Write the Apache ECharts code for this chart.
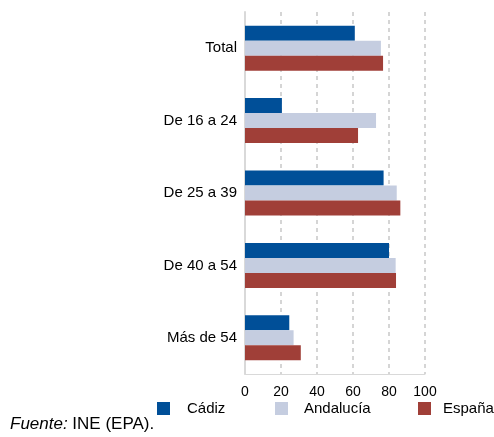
<!DOCTYPE html>
<html>
<head>
<meta charset="utf-8">
<script src="https://cdn.jsdelivr.net/npm/echarts@6/dist/echarts.min.js"></script>
<style>
  html, body { margin: 0; padding: 0; background: #fff; }
  #chart { width: 494px; height: 437px; }
</style>
</head>
<body>
<div id="chart"></div>
<script>
const categories = ["Total", "De 16 a 24", "De 25 a 39", "De 40 a 54", "Más de 54"];
const cadiz = [61, 20.5, 77, 80, 24.6];
const andalucia = [75.5, 72.8, 84.3, 83.7, 27];
const espana = [76.7, 62.8, 86.3, 83.9, 31];
const xTicks = [0, 20, 40, 60, 80, 100];

const font = "Liberation Sans, Arial, sans-serif";
const chart = echarts.init(document.getElementById("chart"));

function legend(name, left, gap) {
  return {
    data: [name],
    left: left,
    top: 401,
    itemWidth: 13,
    itemHeight: 13,
    icon: "rect",
    padding: 0,
    textStyle: { fontFamily: font, fontSize: 15, color: "#000", padding: [0, 0, 0, gap] }
  };
}

chart.setOption({
  animation: false,
  backgroundColor: "#fff",
  grid: { left: 245, right: 69, top: 12, bottom: 63 },
  legend: [legend("Cádiz", 157, 12), legend("Andalucía", 275, 11), legend("España", 418, 7)],
  xAxis: {
    type: "value",
    min: xTicks[0],
    max: xTicks[xTicks.length - 1],
    interval: 20,
    axisLine: { show: true, lineStyle: { color: "#d9d9d9", width: 1 } },
    axisTick: { show: false },
    axisLabel: { fontFamily: font, fontSize: 14, color: "#000", margin: 11 },
    splitLine: { show: true, lineStyle: { color: "#c8c8c8", type: [4, 4], width: 1.5 } }
  },
  yAxis: {
    type: "category",
    inverse: true,
    data: categories,
    axisLine: { show: true, lineStyle: { color: "#d9d9d9", width: 2 } },
    axisTick: { show: false },
    axisLabel: { fontFamily: font, fontSize: 15, color: "#000", margin: 8 }
  },
  series: [
    { name: "Cádiz", type: "bar", data: cadiz, barWidth: 15, barGap: "0%", itemStyle: { color: "#004f98" } },
    { name: "Andalucía", type: "bar", data: andalucia, barWidth: 15, barGap: "0%", itemStyle: { color: "#c5cde0" } },
    { name: "España", type: "bar", data: espana, barWidth: 15, barGap: "0%", itemStyle: { color: "#a03f38" } }
  ],
  graphic: [{
    type: "text",
    left: 10,
    top: 416,
    style: {
      text: "{i|Fuente:} INE (EPA).",
      font: "17px " + font,
      fill: "#000",
      rich: { i: { fontStyle: "italic", fontFamily: font, fontSize: 17 } }
    }
  }]
});
</script>
</body>
</html>
